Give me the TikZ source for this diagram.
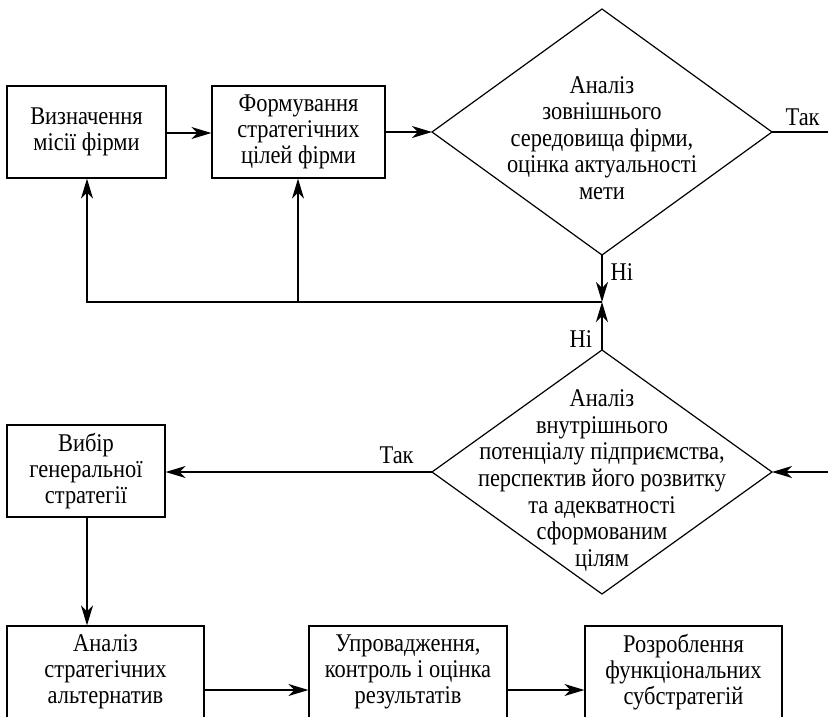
\documentclass[tikz,border=0pt]{standalone}
\usepackage{fontspec}
\setmainfont{Liberation Serif}[FakeStretch=0.88]
\usetikzlibrary{arrows.meta}
\begin{document}
\begin{tikzpicture}[x=1pt,y=-1pt, line width=1.2pt,
  >={Stealth[length=20pt,width=12pt,inset=6pt]},
  box/.style={draw, rectangle, align=center, inner sep=0pt,
    font=\fontsize{25.5}{26}\selectfont},
  txt/.style={align=center, inner sep=0pt, font=\fontsize{25.5}{26.6}\selectfont},
  lbl/.style={inner sep=0pt, font=\fontsize{25.5}{26}\selectfont}]
\useasboundingbox (0,0) rectangle (828,716);
\clip (0,0) rectangle (828,716);

% boxes
\node[box, minimum width=159pt, minimum height=92pt] (b1) at (86.5,132) {Визначення\\місії фірми};
\node[box, minimum width=173pt, minimum height=92pt] (b2) at (298.5,132) {Формування\\стратегічних\\цілей фірми};
\node[box, minimum width=158pt, minimum height=92pt] (b3) at (86,471) {Вибір\\генеральної\\стратегії};
\node[box, minimum width=197pt, minimum height=92pt] (b4) at (105.5,672) {Аналіз\\стратегічних\\альтернатив};
\node[box, minimum width=198pt, minimum height=92pt] (b5) at (408,672) {Упровадження,\\контроль і оцінка\\результатів};
\node[box, minimum width=197pt, minimum height=92pt] (b6) at (683.5,672) {Розроблення\\функціональних\\субстратегій};

% diamond 1
\coordinate (d1t) at (602,9);
\coordinate (d1r) at (772,132);
\coordinate (d1b) at (602,255);
\coordinate (d1l) at (432,132);
\draw (d1t) -- (d1r) -- (d1b) -- (d1l) -- cycle;
\node[txt] (d1) at (602,138) {Аналіз\\зовнішнього\\середовища фірми,\\оцінка актуальності\\мети};

% diamond 2
\coordinate (d2t) at (602,350);
\coordinate (d2r) at (772,472);
\coordinate (d2b) at (602,594);
\coordinate (d2l) at (432,472);
\draw (d2t) -- (d2r) -- (d2b) -- (d2l) -- cycle;
\node[txt] (d2) at (602,480.5) {Аналіз\\внутрішнього\\потенціалу підприємства,\\перспектив його розвитку\\та адекватності\\сформованим\\цілям};

% junction and free ends
\coordinate (j) at (602,302);
\coordinate (e1) at (830,132);
\coordinate (e2) at (830,472);

% connectors
\draw[->] (b1.east |- 0,133) -- (b2.west |- 0,133);
\draw[->] (b2.east |- 0,132) -- (d1l);
\draw (d1r) -- (e1);
\draw[->] (d1b) -- (j);
\draw[->] (d2t) -- (j);
\draw[->] (j) -- (87,302) -- (b1.south -| 87,0);
\draw[->] (298,302) -- (b2.south -| 298,0);
\draw[->] (e2) -- (d2r);
\draw[->] (d2l) -- (b3.east |- d2l);
\draw[->] (b3.south -| 87,0) -- (b4.north -| 87,0);
\draw[->] (b4.east |- 0,690) -- (b5.west |- 0,690);
\draw[->] (b5.east |- 0,690) -- (b6.west |- 0,690);

% labels
\node[lbl, anchor=west] (l1) at (785,117) {Так};
\node[lbl, anchor=west] (l2) at (610,272) {Ні};
\node[lbl, anchor=west] (l3) at (569,339) {Ні};
\node[lbl, anchor=west] (l4) at (379,455) {Так};
\end{tikzpicture}
\end{document}
